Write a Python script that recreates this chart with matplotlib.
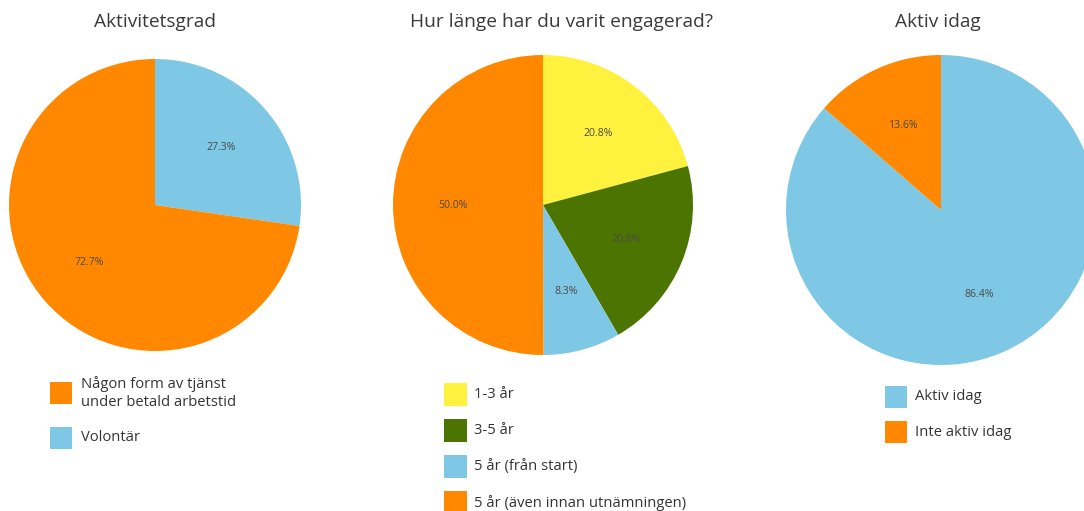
import matplotlib
matplotlib.use("Agg")
import matplotlib.pyplot as plt
from matplotlib.patches import Rectangle

plt.rcParams['font.family'] = ['Open Sans', 'DejaVu Sans']

# ---- data ----
titles = ["Aktivitetsgrad", "Hur länge har du varit engagerad?", "Aktiv idag"]

p1_labels = ["Volontär", "Någon form av tjänst\nunder betald arbetstid"]
p1_values = [27.3, 72.7]

p2_labels = ["1-3 år", "3-5 år", "5 år (från start)", "5 år (även innan utnämningen)"]
p2_values = [20.8, 20.8, 8.3, 50.0]

p3_labels = ["Aktiv idag", "Inte aktiv idag"]
p3_values = [86.4, 13.6]

ORANGE = "#FF8800"
BLUE = "#7FC8E5"
YELLOW = "#FFF23F"
GREEN = "#4C7400"

p1_colors = [BLUE, ORANGE]
p2_colors = [YELLOW, GREEN, BLUE, ORANGE]
p3_colors = [BLUE, ORANGE]

W, H = 1084, 511
fig = plt.figure(figsize=(W / 100, H / 100), dpi=100)
TXT = "#333333"


def px_axes(cx, cy, r):
    return fig.add_axes([(cx - r) / W, (H - (cy + r)) / H, 2 * r / W, 2 * r / H])


def draw_pie(cx, cy, r, values, colors):
    ax = px_axes(cx, cy, r)
    it = iter(values)
    wedges, texts, autotexts = ax.pie(
        values, colors=colors, startangle=90, counterclock=False,
        autopct=lambda p: f"{next(it):.1f}%", pctdistance=0.6,
        radius=1, frame=False,
        textprops=dict(fontsize=7.6, color="#4a4a4a"))
    ax.set_xlim(-1, 1)
    ax.set_ylim(-1, 1)
    ax.set_aspect('equal')
    ax.axis('off')
    return ax, wedges


def draw_title(x, y, s):
    fig.text(x / W, 1 - y / H, s, ha='center', va='center', fontsize=13.8, color="#3a3a3a")


def draw_legend(colors, labels, x, centers, size=23, gap=8):
    for c, lab, cy in zip(colors, labels, centers):
        fig.patches.append(Rectangle(((x) / W, (H - cy - size / 2) / H), size / W, size / H,
                                     transform=fig.transFigure, facecolor=c,
                                     edgecolor='none', figure=fig))
        fig.text((x + size + gap) / W, 1 - cy / H, lab, ha='left', va='center',
                 fontsize=10.6, color=TXT, linespacing=1.3)


ax1, w1 = draw_pie(155, 205, 146, p1_values, p1_colors)
ax2, w2 = draw_pie(543, 205, 150, p2_values, p2_colors)
ax3, w3 = draw_pie(941, 210, 155, p3_values, p3_colors)

draw_title(155, 22, titles[0])
draw_title(561, 22, titles[1])
draw_title(938, 22, titles[2])

draw_legend([p1_colors[1], p1_colors[0]], [p1_labels[1], p1_labels[0]], 50, [393, 437.5], size=22, gap=9)
draw_legend(p2_colors, p2_labels, 444, [394.5, 430.5, 466.5, 502.5], size=23, gap=7)
draw_legend(p3_colors, p3_labels, 885, [396.5, 432], size=22, gap=8)

fig.savefig("out.png", dpi=100)
